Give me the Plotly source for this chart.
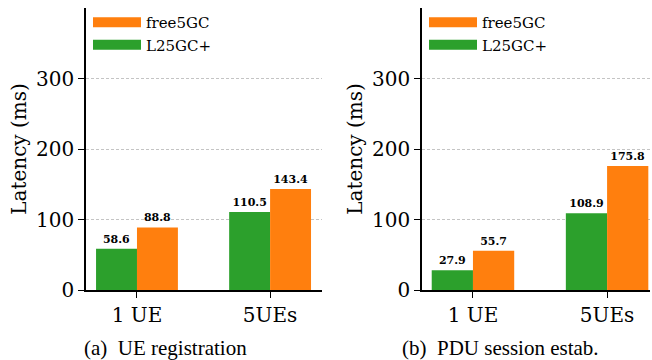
import plotly.graph_objects as go

categories = ["1 UE", "5UEs"]
reg_l25gc = [58.6, 110.5]
reg_free5gc = [88.8, 143.4]
pdu_l25gc = [27.9, 108.9]
pdu_free5gc = [55.7, 175.8]
captions = ["(a)  UE registration", "(b)  PDU session estab."]
y_ticks = [0, 100, 200, 300]

GREEN = "#2ca02c"
ORANGE = "#ff7f0e"
SERIF = "DejaVu Serif"

fig = go.Figure()

panels = [(reg_l25gc, reg_free5gc, "x", "y", "legend"),
          (pdu_l25gc, pdu_free5gc, "x2", "y2", "legend2")]

for l25, f5, xa, ya, lg in panels:
    for name, vals, col in [("L25GC+", l25, GREEN), ("free5GC", f5, ORANGE)]:
        fig.add_trace(go.Bar(
            x=categories, y=vals, name=name, marker=dict(color=col, line=dict(width=0)),
            text=[f"{v:.1f}" for v in vals], textposition="outside",
            textfont=dict(family=SERIF, size=11, color="black", weight="bold"),
            cliponaxis=False, xaxis=xa, yaxis=ya, showlegend=False))
    # legend entries (wide swatches)
    for name, col, rank in [("free5GC", ORANGE, 1), ("L25GC+", GREEN, 2)]:
        fig.add_trace(go.Scatter(
            x=[None], y=[None], mode="lines", name=name,
            line=dict(color=col, width=13), xaxis=xa, yaxis=ya,
            legend=lg, legendrank=rank, showlegend=True))

axis_common = dict(showline=True, linecolor="black", linewidth=1.5, automargin=False,
                   ticks="outside", ticklen=6, tickwidth=1.3, tickcolor="black",
                   tickfont=dict(family=SERIF, size=20, color="black"))

grid = dict(showgrid=True, gridcolor="#c4c4c4", griddash="3px,2px", gridwidth=1, zeroline=False)
ytitle = dict(text="Latency (ms)", font=dict(family=SERIF, size=20, color="black"), standoff=4)

legend_common = dict(xanchor="left", yanchor="top", bgcolor="rgba(0,0,0,0)", itemwidth=48,
                     font=dict(family=SERIF, size=15, color="black"), tracegroupgap=0)

fig.update_layout(
    width=652, height=360, margin=dict(l=0, r=0, t=0, b=0, autoexpand=False),
    paper_bgcolor="white", plot_bgcolor="white",
    barmode="group", bargap=0.385, bargroupgap=0,
    xaxis=dict(domain=[86/652, 322/652], range=[-0.383, 1.39], anchor="y", **axis_common),
    xaxis2=dict(domain=[422/652, 650/652], range=[-0.38, 1.32], anchor="y2", **axis_common),
    yaxis=dict(domain=[70/360, 352/360], range=[0, 400], anchor="x", tickvals=y_ticks,
               title=ytitle, **grid, **axis_common),
    yaxis2=dict(domain=[70/360, 352/360], range=[0, 400], anchor="x2", tickvals=y_ticks,
                title=ytitle, **grid, **axis_common),
    legend=dict(x=88/652, y=354/360, **legend_common),
    legend2=dict(x=424/652, y=354/360, **legend_common),
    showlegend=True,
)

for i, (cap, cx) in enumerate(zip(captions, [165, 500])):
    fig.add_annotation(text=cap, x=cx/652, y=(360-348)/360, xref="paper", yref="paper",
                       xanchor="center", yanchor="middle", showarrow=False,
                       font=dict(family="Liberation Serif", size=21, color="black"))

fig.write_html("out.html", config={"displayModeBar": False},
               post_script="document.body.style.margin='0';document.body.style.overflow='hidden';")
